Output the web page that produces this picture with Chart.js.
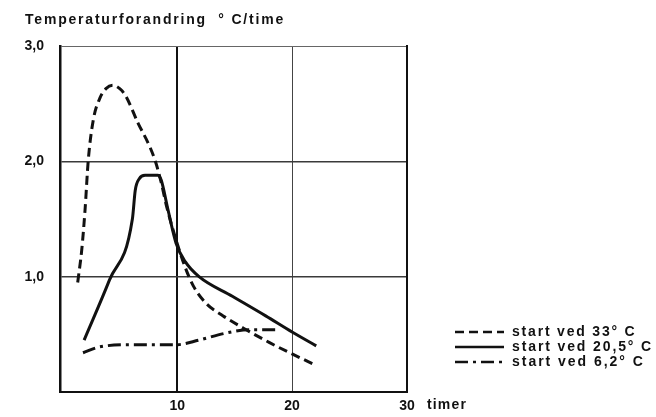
<!DOCTYPE html>
<html>
<head>
<meta charset="utf-8">
<script src="https://cdn.jsdelivr.net/npm/chart.js@4"></script>
<style>
  html, body { margin: 0; padding: 0; background: #fff; }
  #wrap { width: 656px; height: 417px; }
</style>
</head>
<body>
<div id="wrap"><canvas id="chart" width="656" height="417"></canvas></div>
<script>
// Series (x = timer, y = degC per time)
const seriesLabels = ['start ved 33° C', 'start ved 20,5° C', 'start ved 6,2° C'];

const hours33 = [1.34, 1.69, 1.98, 2.26, 2.7, 3.28, 3.8, 4.4, 5.0, 5.5, 6.6, 7.6, 8.1, 8.6, 9.1, 9.9, 10.7, 11.4, 12.5, 14.0, 16.0, 18.0, 20.0, 21.9];
const rate33  = [0.95, 1.23, 1.58, 2.01, 2.36, 2.55, 2.63, 2.66, 2.63, 2.57, 2.33, 2.13, 2.0, 1.82, 1.6, 1.32, 1.08, 0.92, 0.77, 0.66, 0.54, 0.43, 0.33, 0.24];

const hours205 = [1.9, 4.1, 6.1, 6.35, 6.7, 7.2, 8.3, 8.6, 9.2, 9.9, 10.7, 11.9, 14.8, 17.7, 20.0, 22.1];
const rate205  = [0.45, 0.97, 1.50, 1.75, 1.85, 1.88, 1.88, 1.84, 1.58, 1.29, 1.13, 1.0, 0.83, 0.66, 0.52, 0.40];

const hours62 = [1.8, 3.2, 6.1, 9.9, 11.9, 14.2, 16.3, 18.6];
const rate62  = [0.34, 0.39, 0.41, 0.41, 0.45, 0.51, 0.54, 0.54];

const xTickValues = [10, 20, 30];
const yTickValues = [1, 2, 3];

const FONT = 'Liberation Sans, Arial, sans-serif';
const TEXT_FONT = 'bold 14px ' + FONT;
const INK = '#111';

const toPoints = (xs, ys) => xs.map((x, i) => ({ x: x, y: ys[i] }));

const lineStyles = [[9, 5], [], [13, 5, 3, 5]];

// draw text stretched to a given width (the scan's lettering is wide)
const wideText = (ctx, text, x, y, width) => {
  ctx.letterSpacing = '0px';
  const w = ctx.measureText(text).width;
  ctx.letterSpacing = Math.max(0, (width - w) / text.length) + 'px';
  ctx.fillText(text, x, y);
  ctx.letterSpacing = '0px';
};

// Title, "timer" unit and legend
const extras = {
  id: 'extras',
  afterDraw(chart) {
    const ctx = chart.ctx;
    ctx.save();
    ctx.fillStyle = INK;
    ctx.font = TEXT_FONT;
    ctx.textBaseline = 'middle';
    ctx.textAlign = 'left';
    wideText(ctx, 'Temperaturforandring  ° C/time', 25, 20, 260);
    wideText(ctx, 'timer', 427, 405, 40);

    chart.data.datasets.forEach((ds, i) => {
      const y = 332 + i * 15;
      ctx.beginPath();
      ctx.setLineDash(ds.borderDash || []);
      ctx.lineWidth = 2.5;
      ctx.strokeStyle = INK;
      ctx.moveTo(455, y);
      ctx.lineTo(504, y);
      ctx.stroke();
      ctx.setLineDash([]);
      wideText(ctx, ds.label, 512, y, ds.label.length * 8.3);
    });
    ctx.restore();
  },
};

const ctx = document.getElementById('chart').getContext('2d');
new Chart(ctx, {
  type: 'line',
  data: {
    datasets: [
      { label: seriesLabels[0], data: toPoints(hours33, rate33), borderDash: lineStyles[0] },
      { label: seriesLabels[1], data: toPoints(hours205, rate205), borderDash: lineStyles[1] },
      { label: seriesLabels[2], data: toPoints(hours62, rate62), borderDash: lineStyles[2] },
    ].map((d) => ({
      ...d,
      borderColor: INK,
      borderWidth: 3,
      pointRadius: 0,
      cubicInterpolationMode: 'monotone',
      fill: false,
    })),
  },
  options: {
    responsive: false,
    animation: false,
    layout: { padding: { left: 0, top: 46, right: 249, bottom: 0 } },
    plugins: { legend: { display: false }, tooltip: { enabled: false } },
    scales: {
      x: {
        type: 'linear',
        min: -0.2,
        max: 30,
        afterFit: (scale) => { scale.height = 25; },
        afterBuildTicks: (scale) => { scale.ticks = xTickValues.map((v) => ({ value: v })); },
        ticks: {
          color: INK,
          font: { family: FONT, size: 14, weight: 'bold' },
          padding: 6,
          maxRotation: 0,
          callback: (v) => String(v),
        },
        grid: {
          color: (c) => (c.tick && c.tick.value === 30 ? 'rgba(0,0,0,0)' : c.tick && c.tick.value === 20 ? '#444' : INK),
          lineWidth: (c) => (c.tick && c.tick.value === 10 ? 2 : 1),
          drawTicks: false,
        },
        border: { color: INK, width: 2 },
      },
      y: {
        min: 0,
        max: 3,
        afterFit: (scale) => { scale.width = 60; },
        afterBuildTicks: (scale) => { scale.ticks = yTickValues.map((v) => ({ value: v })); },
        ticks: {
          color: INK,
          font: { family: FONT, size: 14, weight: 'bold' },
          padding: 16,
          callback: (v) => v.toFixed(1).replace('.', ','),
        },
        grid: {
          color: (c) => (c.tick && c.tick.value === 3 ? '#666' : '#3a3a3a'),
          lineWidth: (c) => (c.tick && c.tick.value === 3 ? 1 : 1.6),
          drawTicks: false,
        },
        border: { color: INK, width: 2.5 },
      },
      yRight: {
        type: 'linear',
        position: 'right',
        min: 0,
        max: 3,
        afterFit: (scale) => { scale.width = 0; },
        ticks: { display: false },
        grid: { display: false },
        border: { color: INK, width: 2 },
      },
    },
  },
  plugins: [extras],
});
</script>
</body>
</html>
